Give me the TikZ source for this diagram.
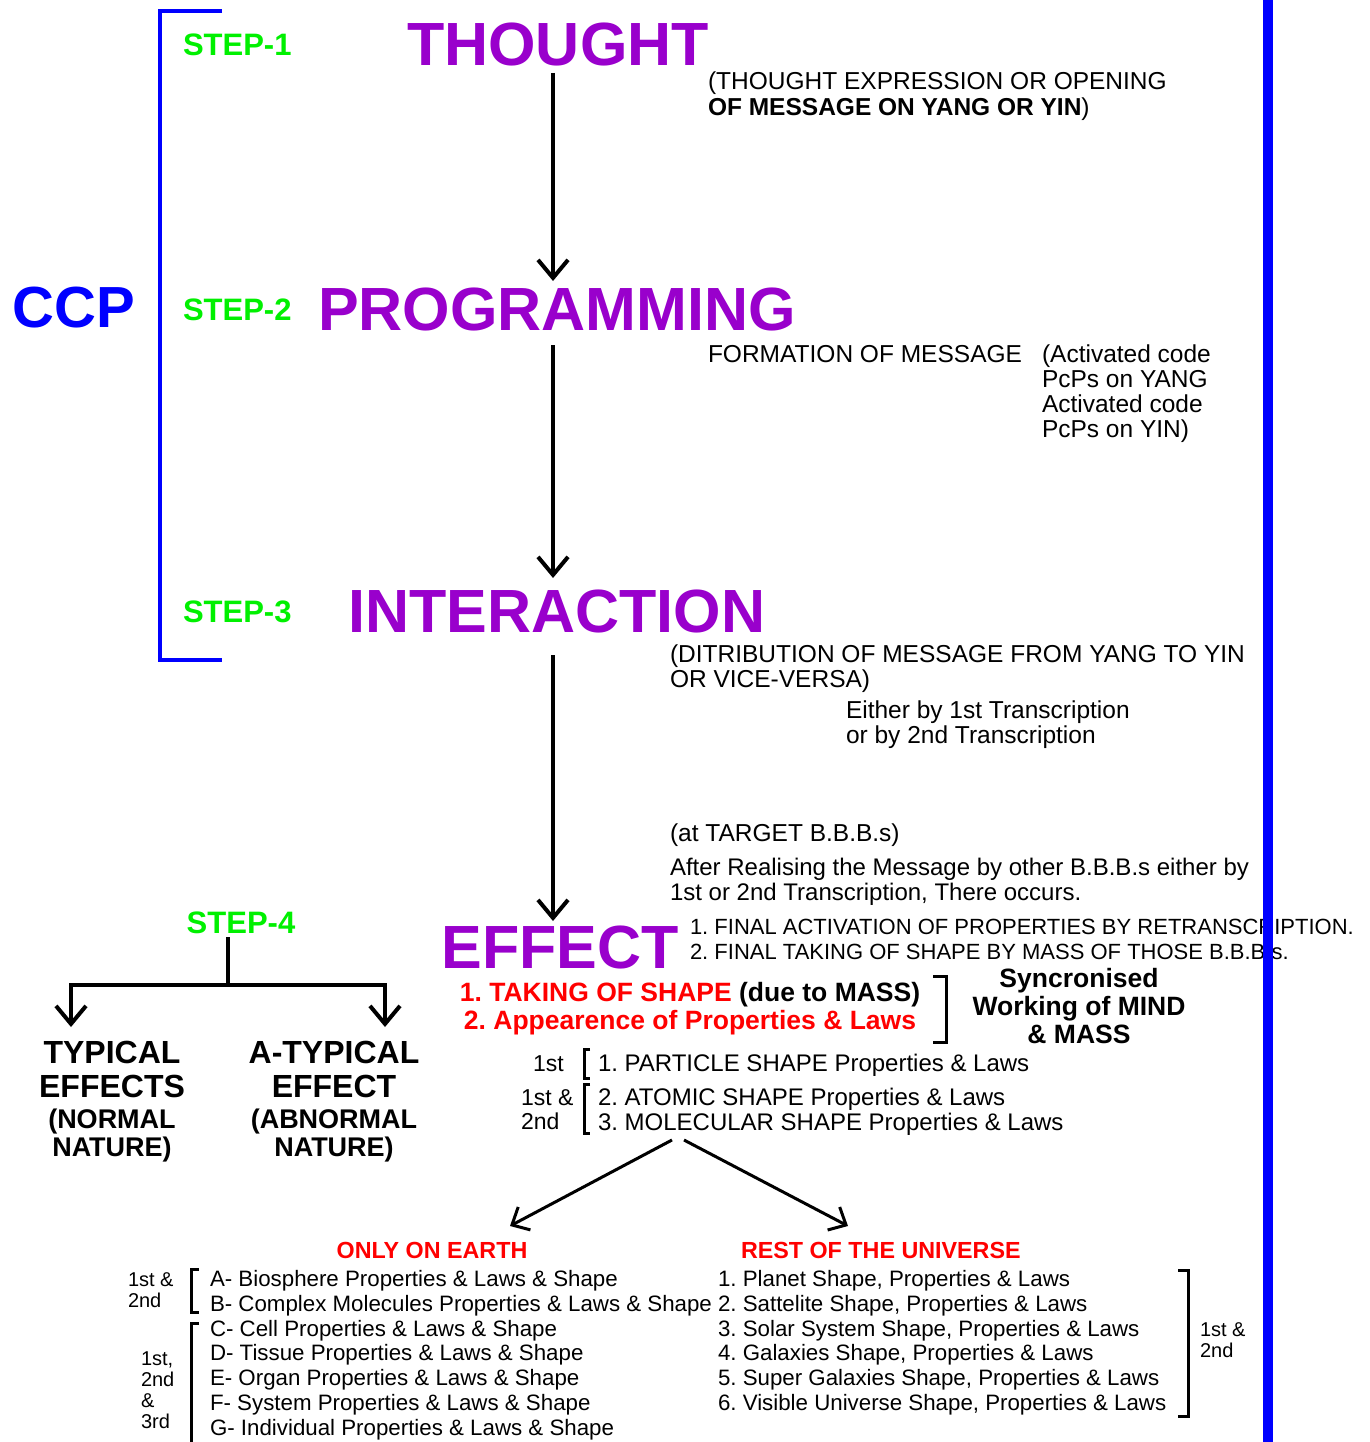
\documentclass[tikz,border=0pt]{standalone}
\usepackage{fontspec}
\setmainfont{Liberation Sans}
\usetikzlibrary{arrows.meta}
\definecolor{purp}{RGB}{153,0,204}
\definecolor{stepg}{RGB}{0,240,0}
\definecolor{myblue}{RGB}{0,0,255}
\definecolor{myred}{RGB}{255,0,0}
\newcommand{\fsz}[1]{\fontsize{#1}{#1}\selectfont}
\begin{document}
\frenchspacing
\begin{tikzpicture}[x=1pt,y=-1pt,
 every node/.style={inner sep=0pt, outer sep=0pt},
 txt/.style={anchor=base west, font=\fsz{24.5}},
 fin/.style={anchor=base west, font=\fsz{22}},
 lst/.style={anchor=base west, font=\fsz{22.3}},
 mid/.style={anchor=base west, font=\fsz{24}},
 sml/.style={anchor=base west, font=\fsz{20}},
 big/.style={anchor=base, font=\bfseries\fsz{61}, text=purp},
 stp/.style={anchor=base west, font=\bfseries\fsz{31}, text=stepg},
 redb/.style={font=\bfseries\fsz{26.5}, text=myred},
 arr/.style={line width=4pt, -{Straight Barb[length=18pt,width=30pt]}},
 darr/.style={line width=3pt, -{Straight Barb[length=14pt,width=26pt]}},
 brk/.style={line width=3pt},
]
\fill[white] (0,0) rectangle (1369,1442);
\useasboundingbox (0,0) rectangle (1369,1442);

% CCP bracket
\draw[myblue, line width=3.5pt] (222,11) -- (160,11) -- (160,660) -- (222,660);
\node[anchor=base, font=\bfseries\fsz{58}, text=myblue] (ccp) at (74,327) {CCP};

% steps
\node[stp] (s1) at (183,56) {STEP-1};
\node[stp] (s2) at (183,320) {STEP-2};
\node[stp] (s3) at (183,622) {STEP-3};
\node[stp, anchor=base] (s4) at (241,933) {STEP-4};

% main words
\node[big] (thought) at (558,66) {THOUGHT};
\node[big] (prog) at (557,330) {PROGRAMMING};
\node[big] (inter) at (557,632) {INTERACTION};
\node[big] (effect) at (560,968) {EFFECT};

% main arrows
\coordinate (a1) at (553,73);  \coordinate (a2) at (553,281);
\coordinate (a3) at (553,345); \coordinate (a4) at (553,578);
\coordinate (a5) at (553,655); \coordinate (a6) at (553,921);
\draw[arr] (a1) -- (a2);
\draw[arr] (a3) -- (a4);
\draw[arr] (a5) -- (a6);

% texts
\node[txt] (t1a) at (708,90) {(THOUGHT EXPRESSION OR OPENING};
\node[txt] (t1b) at (708,116) {\textbf{OF MESSAGE ON YANG OR YIN})};
\node[txt] (p1) at (708,362) {FORMATION OF MESSAGE};
\node[txt] (p2) at (1042,362) {(Activated code};
\node[txt] (p3) at (1042,387) {PcPs on YANG};
\node[txt] (p4) at (1042,412) {Activated code};
\node[txt] (p5) at (1042,437) {PcPs on YIN)};
\node[txt] (i1) at (670,662) {(DITRIBUTION OF MESSAGE FROM YANG TO YIN};
\node[txt] (i2) at (670,687) {OR VICE-VERSA)};
\node[txt] (i3) at (846,718) {Either by 1st Transcription};
\node[txt] (i4) at (846,743) {or by 2nd Transcription};
\node[txt] (q1) at (670,841) {(at TARGET B.B.B.s)};
\node[txt, font=\fsz{24}] (q2) at (670,875) {After Realising the Message by other B.B.B.s either by};
\node[txt, font=\fsz{24}] (q3) at (670,900) {1st or 2nd Transcription, There occurs.};
\node[fin] (e1) at (690,934) {1. FINAL ACTIVATION OF PROPERTIES BY RETRANSCRIPTION.};
\node[fin] (e2) at (690,959) {2. FINAL TAKING OF SHAPE BY MASS OF THOSE B.B.B.s.};

% red lines
\node[redb, anchor=base] (r1) at (690,1001) {1. TAKING OF SHAPE \textcolor{black}{(due to MASS)}};
\node[redb, anchor=base] (r2) at (690,1029) {2. Appearence of Properties \& Laws};
\draw[brk] (933,976) -- (946,976) -- (946,1042) -- (933,1042);
\node[anchor=base, font=\bfseries\fsz{26.5}] (sy1) at (1079,987) {Syncronised};
\node[anchor=base, font=\bfseries\fsz{26.5}] (sy2) at (1079,1015) {Working of MIND};
\node[anchor=base, font=\bfseries\fsz{26.5}] (sy3) at (1079,1043) {\& MASS};

% shapes
\node[anchor=base west, font=\fsz{23}] (m1l) at (533,1071) {1st};
\node[anchor=base west, font=\fsz{23}] (m2l) at (521,1105) {1st \&};
\node[anchor=base west, font=\fsz{23}] (m3l) at (521,1129) {2nd};
\draw[brk] (590,1049) -- (584,1049) -- (584,1078) -- (590,1078);
\draw[brk] (590,1084) -- (584,1084) -- (584,1133) -- (590,1133);
\node[mid] (m1) at (598,1071) {1. PARTICLE SHAPE Properties \& Laws};
\node[mid] (m2) at (598,1105) {2. ATOMIC SHAPE Properties \& Laws};
\node[mid] (m3) at (598,1130) {3. MOLECULAR SHAPE Properties \& Laws};

% diagonal arrows
\coordinate (d0l) at (672,1140); \coordinate (d1l) at (510,1226);
\coordinate (d0r) at (684,1140); \coordinate (d1r) at (848,1226);
\draw[darr] (d0l) -- (d1l);
\draw[darr] (d0r) -- (d1r);

% step-4 tree
\coordinate (t0) at (228,937); \coordinate (t1) at (228,985);
\coordinate (tl) at (71,985);  \coordinate (tr) at (385,985);
\coordinate (tle) at (71,1027); \coordinate (tre) at (385,1027);
\draw[line width=4pt] (t0) -- (t1);
\draw[arr] (t1) -- (tl) -- (tle);
\draw[arr] (t1) -- (tr) -- (tre);
\node[anchor=base, font=\bfseries\fsz{32}] (ty1) at (112,1063) {TYPICAL};
\node[anchor=base, font=\bfseries\fsz{32}] (ty2) at (112,1097) {EFFECTS};
\node[anchor=base, font=\bfseries\fsz{27}] (ty3) at (112,1128) {(NORMAL};
\node[anchor=base, font=\bfseries\fsz{27}] (ty4) at (112,1156) {NATURE)};
\node[anchor=base, font=\bfseries\fsz{32}] (at1) at (334,1063) {A-TYPICAL};
\node[anchor=base, font=\bfseries\fsz{32}] (at2) at (334,1097) {EFFECT};
\node[anchor=base, font=\bfseries\fsz{27}] (at3) at (334,1128) {(ABNORMAL};
\node[anchor=base, font=\bfseries\fsz{27}] (at4) at (334,1156) {NATURE)};

% bottom lists
\node[anchor=base, font=\bfseries\fsz{23.3}, text=myred] (earth) at (432,1258) {ONLY ON EARTH};
\node[anchor=base west, font=\bfseries\fsz{23.3}, text=myred] (rest) at (741,1258) {REST OF THE UNIVERSE};
\node[lst] (la) at (210,1286) {A- Biosphere Properties \& Laws \& Shape};
\node[lst] (lb) at (210,1311) {B- Complex Molecules Properties \& Laws \& Shape};
\node[lst] (lc) at (210,1336) {C- Cell Properties \& Laws \& Shape};
\node[lst] (ld) at (210,1360) {D- Tissue Properties \& Laws \& Shape};
\node[lst] (le) at (210,1385) {E- Organ Properties \& Laws \& Shape};
\node[lst] (lf) at (210,1410) {F- System Properties \& Laws \& Shape};
\node[lst] (lg) at (210,1435) {G- Individual Properties \& Laws \& Shape};
\node[lst] (ra) at (718,1286) {1. Planet Shape, Properties \& Laws};
\node[lst] (rb) at (718,1311) {2. Sattelite Shape, Properties \& Laws};
\node[lst] (rc) at (718,1336) {3. Solar System Shape, Properties \& Laws};
\node[lst] (rd) at (718,1360) {4. Galaxies Shape, Properties \& Laws};
\node[lst] (re) at (718,1385) {5. Super Galaxies Shape, Properties \& Laws};
\node[lst] (rf) at (718,1410) {6. Visible Universe Shape, Properties \& Laws};

\node[sml] (l1a) at (128,1286) {1st \&};
\node[sml] (l1b) at (128,1307) {2nd};
\node[sml] (l2a) at (141,1365) {1st,};
\node[sml] (l2b) at (141,1386) {2nd};
\node[sml] (l2c) at (141,1407) {\&};
\node[sml] (l2d) at (141,1428) {3rd};
\node[sml] (r1a) at (1200,1336) {1st \&};
\node[sml] (r1b) at (1200,1357) {2nd};
\draw[brk] (199,1269) -- (191,1269) -- (191,1312) -- (199,1312);
\draw[brk] (199,1323) -- (191,1323) -- (191,1445);
\draw[brk] (1178,1270) -- (1188,1270) -- (1188,1416) -- (1178,1416);

% right blue line
\draw[myblue, line width=10pt] (1268,-2) -- (1268,1444);
\end{tikzpicture}
\end{document}
